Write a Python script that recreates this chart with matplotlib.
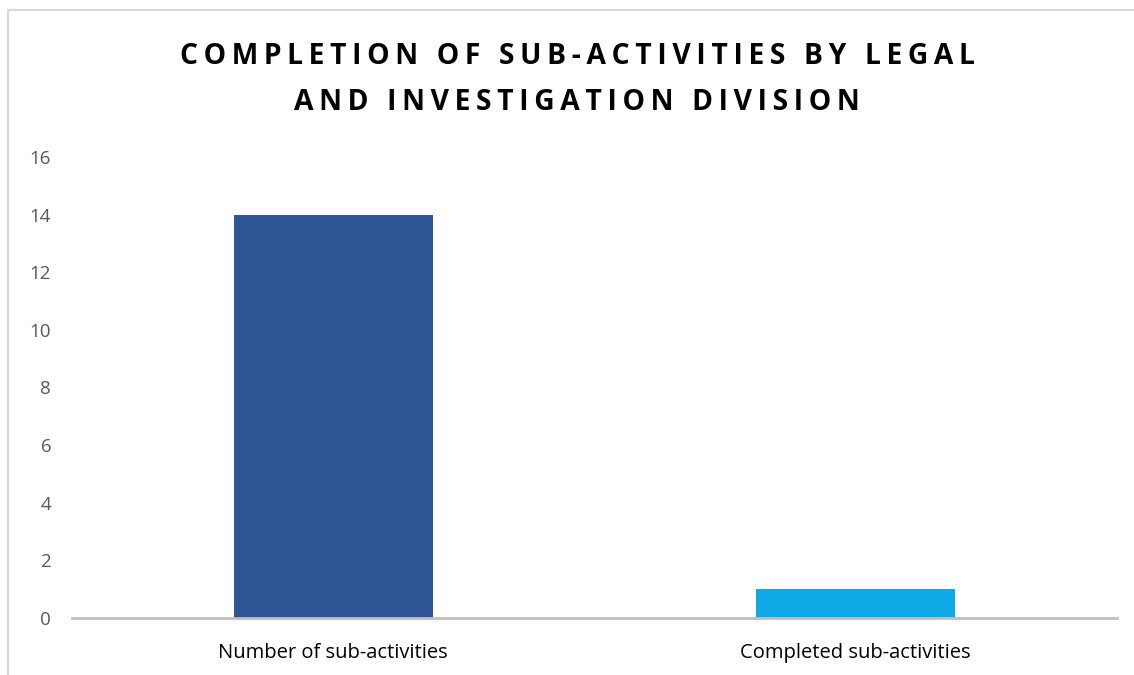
import matplotlib
matplotlib.use('Agg')
import matplotlib.pyplot as plt
from matplotlib.patches import Rectangle

# data
categories = ["Number of sub-activities", "Completed sub-activities"]
values = [14, 1]
bar_colors = ["#2F5597", "#10A9E8"]
title_lines = ["COMPLETION OF SUB-ACTIVITIES BY LEGAL", "AND INVESTIGATION DIVISION"]
yticks = [0, 2, 4, 6, 8, 10, 12, 14, 16]

plt.rcParams['font.family'] = ['Open Sans', 'DejaVu Sans']

fig = plt.figure(figsize=(11.34, 6.75), dpi=100)
ax = fig.add_axes([72 / 1134, 57 / 675, 1045 / 1134, 461 / 675])

ax.bar(range(len(categories)), values, width=0.38, color=bar_colors)

ax.set_xlim(-0.5, 1.5)
ax.set_ylim(0, 16)
ax.set_yticks(yticks)
ax.set_xticks(range(len(categories)))
ax.set_xticklabels(categories, fontsize=14.5, color='#000000')
ax.tick_params(axis='y', length=0, labelsize=13.5, labelcolor='#595959', pad=15)
ax.tick_params(axis='x', length=0, pad=18)

for s in ['top', 'right', 'left']:
    ax.spines[s].set_visible(False)
ax.spines['bottom'].set_color('#BFBFBF')
ax.spines['bottom'].set_linewidth(2)

# chart frame (only top and left edges visible in the crop)
fig.patches.append(Rectangle((8 / 1134, -0.1), 1.2, 665 / 675 + 0.1,
                             transform=fig.transFigure, fill=False,
                             edgecolor='#D9D9D9', linewidth=1.5))

# letter-spaced title
def spaced(s):
    return '\u2009'.join(s)

fig.text(577 / 1134, 1 - 57 / 675, spaced(title_lines[0]), ha='center', va='center',
         fontsize=20.3, fontweight='bold', color='#000000')
fig.text(577 / 1134, 1 - 102 / 675, spaced(title_lines[1]), ha='center', va='center',
         fontsize=20.3, fontweight='bold', color='#000000')

fig.savefig('out.png', dpi=100)
